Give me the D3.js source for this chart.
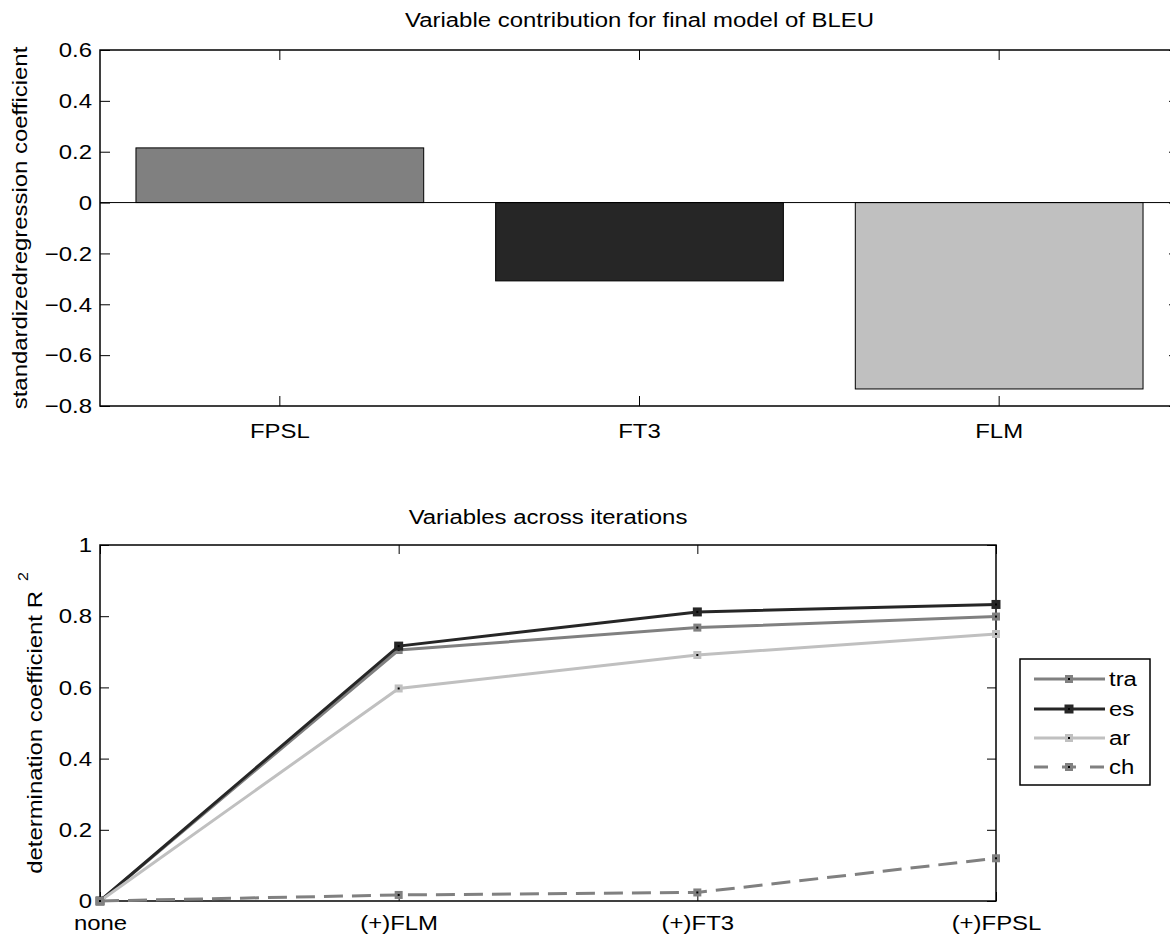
<!DOCTYPE html>
<html><head><meta charset="utf-8">
<script src="https://cdn.jsdelivr.net/npm/d3@7"></script>
<style>body{margin:0;background:#fff} svg{display:block}</style>
</head><body>
<svg id="c" width="1170" height="936"></svg>
<script>
const barCategories = ["FPSL","FT3","FLM"];
const barValues = [0.215,-0.308,-0.733];
const barTicks = [-0.8,-0.6,-0.4,-0.2,0,0.2,0.4,0.6];
const iterations = ["none","(+)FLM","(+)FT3","(+)FPSL"];
const seriesNames = ["tra","es","ar","ch"];
const traValues = [0,0.705,0.768,0.799];
const esValues = [0,0.716,0.812,0.833];
const arValues = [0,0.597,0.691,0.750];
const chValues = [0,0.017,0.024,0.12];
const lineTicks = [0,0.2,0.4,0.6,0.8,1];
const topTitle = "Variable contribution for final model of BLEU";
const topYLabel = "standardizedregression coefficient";
const bottomTitle = "Variables across iterations";
const bottomYLabel = "determination coefficient R";
const bottomYLabelSup = "2";

const FONT = "'Liberation Sans', Arial, Helvetica, sans-serif";
const FS = 21, SX = 1.14;
const svg = d3.select("#c");

function label(g, x, y, str, anchor, rot) {
  return g.append("text")
    .attr("transform", `translate(${x},${y}) rotate(${rot||0}) scale(${SX},1)`)
    .attr("text-anchor", anchor).attr("font-family", FONT).attr("font-size", FS)
    .attr("fill", "#000").text(str);
}
function styleAxis(g) {
  g.attr("font-family", FONT).attr("font-size", FS);
  g.select(".domain").remove();
  g.selectAll(".tick line").attr("stroke", "#000").attr("stroke-width", 1);
  g.selectAll(".tick text").attr("fill", "#000").each(function () {
    const t = d3.select(this); const x = +t.attr("x") || 0;
    t.attr("transform", `translate(${x},0) scale(${SX},1) translate(${-x},0)`);
  });
}

/* ---------- Top bar chart ---------- */
{
  const L = 100, R = 1179, T = 50, B = 406;
  const barFill = ["#808080", "#262626", "#c0c0c0"];
  const x = d3.scaleBand().domain(barCategories).range([L, R]).paddingInner(0.2).paddingOuter(0.1);
  const y = d3.scaleLinear().domain([-0.8, 0.6]).range([B, T]);
  const fmt = d => d === 0 ? "0" : d3.format(".1f")(d);
  const g = svg.append("g");

  g.selectAll("rect.bar").data(barValues).join("rect").attr("class", "bar")
    .attr("x", (d, i) => x(barCategories[i]))
    .attr("width", x.bandwidth())
    .attr("y", d => Math.min(y(d), y(0)))
    .attr("height", d => Math.abs(y(d) - y(0)))
    .attr("fill", (d, i) => barFill[i]).attr("stroke", "#000").attr("stroke-width", 1);

  g.append("line").attr("x1", L).attr("x2", R).attr("y1", y(0)).attr("y2", y(0))
    .attr("stroke", "#000").attr("stroke-width", 1);

  styleAxis(g.append("g").attr("transform", `translate(${L},0)`)
    .call(d3.axisLeft(y).tickValues(barTicks).tickFormat(fmt).tickSizeInner(-10).tickSizeOuter(0).tickPadding(8)));
  styleAxis(g.append("g").attr("transform", `translate(${R},0)`)
    .call(d3.axisRight(y).tickValues(barTicks).tickFormat("").tickSizeInner(-10).tickSizeOuter(0)));
  styleAxis(g.append("g").attr("transform", `translate(0,${B})`)
    .call(d3.axisBottom(x).tickSizeInner(-10).tickSizeOuter(0).tickPadding(17)));
  styleAxis(g.append("g").attr("transform", `translate(0,${T})`)
    .call(d3.axisTop(x).tickFormat("").tickSizeInner(-10).tickSizeOuter(0)));

  g.append("rect").attr("x", L).attr("y", T).attr("width", R - L).attr("height", B - T)
    .attr("fill", "none").attr("stroke", "#000").attr("stroke-width", 1.5);

  label(g, (L + R) / 2, 27, topTitle, "middle");
  label(g, 27, (T + B) / 2, topYLabel, "middle", -90);
}

/* ---------- Bottom line chart ---------- */
{
  const L = 100, R = 996, T = 545, B = 901;
  const x = d3.scalePoint().domain(iterations).range([L, R]);
  const y = d3.scaleLinear().domain([0, 1]).range([B, T]);
  const fmt = d => String(d);
  const g = svg.append("g");

  styleAxis(g.append("g").attr("transform", `translate(${L},0)`)
    .call(d3.axisLeft(y).tickValues(lineTicks).tickFormat(fmt).tickSizeInner(-9).tickSizeOuter(0).tickPadding(8)));
  styleAxis(g.append("g").attr("transform", `translate(${R},0)`)
    .call(d3.axisRight(y).tickValues(lineTicks).tickFormat("").tickSizeInner(-9).tickSizeOuter(0)));
  styleAxis(g.append("g").attr("transform", `translate(0,${B})`)
    .call(d3.axisBottom(x).tickSizeInner(-9).tickSizeOuter(0).tickPadding(14)));
  styleAxis(g.append("g").attr("transform", `translate(0,${T})`)
    .call(d3.axisTop(x).tickFormat("").tickSizeInner(-9).tickSizeOuter(0)));

  g.append("rect").attr("x", L).attr("y", T).attr("width", R - L).attr("height", B - T)
    .attr("fill", "none").attr("stroke", "#000").attr("stroke-width", 1.5);

  const series = [
    { name: seriesNames[0], values: traValues, color: "#808080", dash: null, ms: 8 },
    { name: seriesNames[1], values: esValues, color: "#262626", dash: null, ms: 9 },
    { name: seriesNames[2], values: arValues, color: "#c0c0c0", dash: null, ms: 8 },
    { name: seriesNames[3], values: chValues, color: "#808080", dash: "19,9", ms: 8 }
  ];
  const line = d3.line().x((d, i) => x(iterations[i])).y(d => y(d));

  series.forEach(s => {
    g.append("path").datum(s.values).attr("d", line)
      .attr("fill", "none").attr("stroke", s.color).attr("stroke-width", 3)
      .attr("stroke-dasharray", s.dash);
    const m = g.append("g").selectAll("g").data(s.values).join("g")
      .attr("transform", (d, i) => `translate(${x(iterations[i])},${y(d)})`);
    m.append("rect").attr("x", -s.ms / 2).attr("y", -s.ms / 2).attr("width", s.ms).attr("height", s.ms)
      .attr("fill", s.color);
    m.append("rect").attr("x", -1).attr("y", -1).attr("width", 2).attr("height", 2).attr("fill", "#000");
  });

  label(g, (L + R) / 2, 524, bottomTitle, "middle");
  const yl = label(g, 42, (T + B) / 2, bottomYLabel + " ", "middle", -90);
  yl.append("tspan").attr("dx", 3).attr("dy", -14).attr("font-size", 14).text(bottomYLabelSup);

  /* legend */
  const lg = svg.append("g");
  lg.append("rect").attr("x", 1020).attr("y", 659).attr("width", 130).attr("height", 126)
    .attr("fill", "#fff").attr("stroke", "#000").attr("stroke-width", 1.5);
  const rowY = [679, 709, 738, 767];
  series.forEach((s, i) => {
    const ry = rowY[i];
    lg.append("line").attr("x1", 1034).attr("x2", 1105).attr("y1", ry).attr("y2", ry)
      .attr("stroke", s.color).attr("stroke-width", 3).attr("stroke-dasharray", s.dash ? "14,14" : null);
    lg.append("rect").attr("x", 1069 - s.ms / 2).attr("y", ry - s.ms / 2).attr("width", s.ms).attr("height", s.ms)
      .attr("fill", s.color);
    lg.append("rect").attr("x", 1068).attr("y", ry - 1).attr("width", 2).attr("height", 2).attr("fill", "#000");
    label(lg, 1109, ry + 7, s.name, "start");
  });
}
</script>
</body></html>
